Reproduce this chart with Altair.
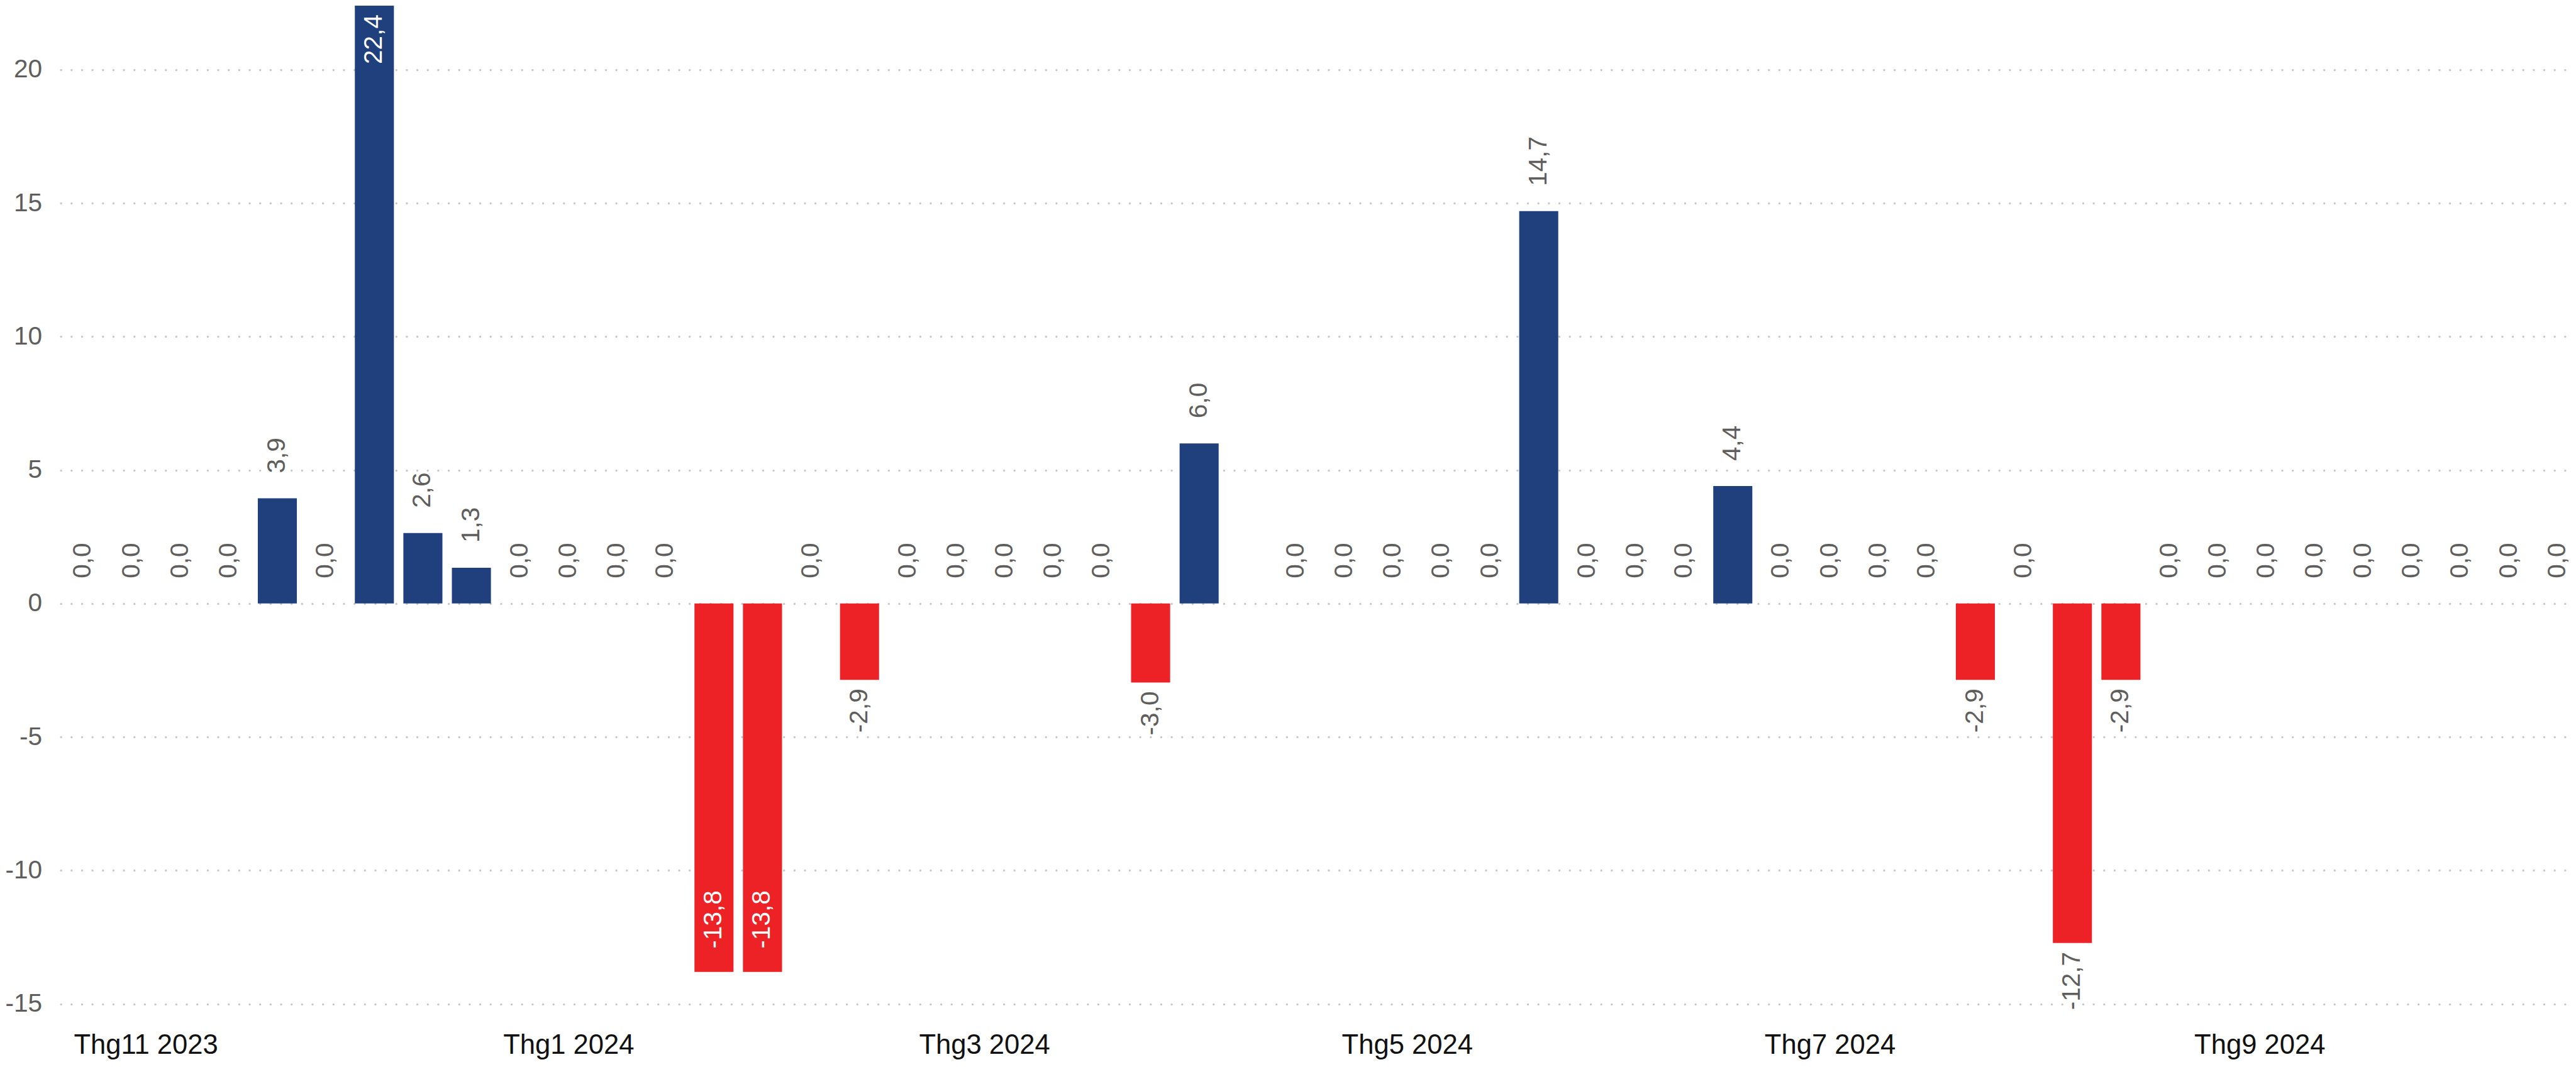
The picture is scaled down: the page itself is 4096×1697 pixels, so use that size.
import altair as alt
import pandas as pd

# ---- data -------------------------------------------------------------
first_week = "2023-10-23"
n_weeks = 52
week_dates = [d.strftime("%Y-%m-%d") for d in pd.date_range(first_week, periods=n_weeks, freq="7D")]

values = [0.0, 0.0, 0.0, 0.0, 3.94, 0.0, 22.4, 2.64, 1.34, 0.0, 0.0, 0.0, 0.0,
          -13.8, -13.8, 0.0, -2.86, 0.0, 0.0, 0.0, 0.0, 0.0, -2.96, 6.0, None,
          0.0, 0.0, 0.0, 0.0, 0.0, 14.7, 0.0, 0.0, 0.0, 4.4, 0.0, 0.0, 0.0, 0.0,
          -2.86, 0.0, -12.72, -2.86,
          0.0, 0.0, 0.0, 0.0, 0.0, 0.0, 0.0, 0.0, 0.0]

month_ticks = [(2023, 11), (2024, 1), (2024, 3), (2024, 5), (2024, 7), (2024, 9)]
y_ticks = [-15, -10, -5, 0, 5, 10, 15, 20]

df = pd.DataFrame({"week": week_dates, "value": values}).dropna()

# ---- style ------------------------------------------------------------
BLUE = "#1F407C"
RED = "#ED2227"
GRAY = "#605E5C"
FONT = "Liberation Sans"
LABEL_SIZE = 40.6

xscale = alt.Scale(
    type="utc",
    domain=[
        alt.DateTime(year=2023, month=10, date=20, hours=4, minutes=52, utc=True),
        alt.DateTime(year=2024, month=10, date=15, hours=11, minutes=35, utc=True),
    ],
)
yscale = alt.Scale(domain=[-15, 22.4], nice=False, zero=False)

xaxis = alt.Axis(
    values=[alt.DateTime(year=y, month=m, date=1, utc=True) for y, m in month_ticks],
    labelExpr="'Thg' + (utcmonth(datum.value) + 1) + ' ' + utcyear(datum.value)",
    title=None, grid=False, domain=False, ticks=False, tickSize=0,
    labelPadding=78.7, labelFontSize=43.6, labelColor="#111111", labelFont=FONT,
    labelAlign="center", labelBaseline="alphabetic", labelFlush=False,
    labelOverlap=False, labelBound=False, labelLimit=0,
)
yaxis = alt.Axis(
    values=y_ticks, labelExpr="datum.value + ''", title=None,
    domain=False, ticks=False, tickSize=0, labelPadding=30,
    labelFontSize=LABEL_SIZE, labelColor=GRAY, labelFont=FONT, labelLimit=0,
    grid=True, gridColor="#C8C8C8", gridWidth=3.3, gridDash=[0.1, 16.56], gridCap="round",
)

base = alt.Chart(df).encode(
    x=alt.X("week:T", scale=xscale, axis=xaxis),
    y=alt.Y("value:Q", scale=yscale, axis=yaxis),
)

bars = base.mark_bar(size=62.1, clip=True).encode(
    color=alt.condition("datum.value >= 0", alt.value(BLUE), alt.value(RED))
)

lab = base.transform_calculate(
    label="(datum.value < 0 ? '-' : '') + replace(format(abs(datum.value), '.1f'), '.', ',')"
)

def text_layer(cond, align, dx, color):
    return lab.transform_filter(cond).mark_text(
        angle=270, align=align, baseline="middle", dx=dx,
        font=FONT, fontSize=LABEL_SIZE, color=color,
    ).encode(text="label:N")

out_pos = text_layer("datum.value >= 0 && datum.value < 20", "left", 40, GRAY)
in_pos = text_layer("datum.value >= 20", "right", -14, "white")
out_neg = text_layer("datum.value < 0 && datum.value > -13.5", "right", -14, GRAY)
in_neg = text_layer("datum.value <= -13.5", "left", 37, "white")

chart = alt.layer(bars, out_pos, in_pos, out_neg, in_neg).properties(
    width=3991.4,
    height=1587.6,
    autosize=alt.AutoSizeParams(type="none"),
    padding={"left": 88.6, "top": 1, "right": 0, "bottom": 88},
    background="white",
).configure_view(stroke=None)

chart.save("out.html", embed_options={"renderer": "svg", "actions": False})
